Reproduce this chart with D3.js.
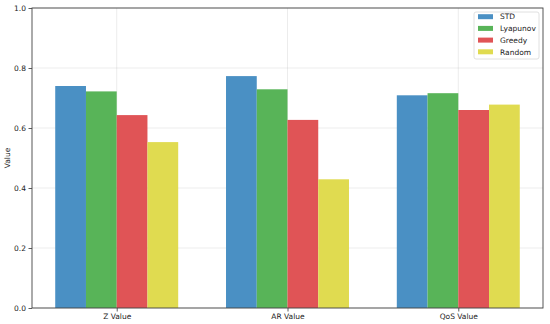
<!DOCTYPE html>
<html><head><meta charset="utf-8">
<script src="https://cdn.jsdelivr.net/npm/d3@7"></script>
<style>body{margin:0;background:#fff}svg{display:block}text{font-family:"DejaVu Sans",sans-serif;fill:#222}</style>
</head><body><svg id="c" width="550" height="324"></svg>
<script>
const categories = ["Z Value", "AR Value", "QoS Value"];
const seriesNames = ["STD", "Lyapunov", "Greedy", "Random"];
const STD = [0.740, 0.773, 0.709];
const Lyapunov = [0.722, 0.729, 0.716];
const Greedy = [0.643, 0.627, 0.660];
const Random = [0.553, 0.429, 0.678];
const yTicks = [0.0, 0.2, 0.4, 0.6, 0.8, 1.0];
const colors = ["#4a90c4", "#58b458", "#e05456", "#e0db50"];
const series = [STD, Lyapunov, Greedy, Random];

const svg = d3.select("#c");
const L = 32, R = 543, T = 8, B = 308;
const barW = 0.18;
const x = d3.scaleLinear().domain([-0.496, 2.496]).range([L, R]);
const y = d3.scaleLinear().domain([0, 1]).range([B, T]);

// grid
const g = svg.append("g");
g.selectAll(".hg").data(yTicks).enter().append("line")
  .attr("x1", L).attr("x2", R).attr("y1", d => y(d)).attr("y2", d => y(d))
  .attr("stroke", "#b0b0b0").attr("stroke-opacity", 0.3).attr("stroke-width", 0.8);
g.selectAll(".vg").data(categories).enter().append("line")
  .attr("y1", T).attr("y2", B).attr("x1", (d, i) => x(i)).attr("x2", (d, i) => x(i))
  .attr("stroke", "#b0b0b0").attr("stroke-opacity", 0.3).attr("stroke-width", 0.8);

// bars
series.forEach((s, j) => {
  svg.append("g").selectAll("rect").data(s).enter().append("rect")
    .attr("x", (d, i) => x(i + (j - 1.5) * barW - barW / 2))
    .attr("width", x(barW) - x(0))
    .attr("y", d => y(d)).attr("height", d => y(0) - y(d))
    .attr("fill", colors[j]);
});

// axes
const yAxis = d3.axisLeft(y).tickValues(yTicks).tickFormat(d3.format(".1f")).tickSize(3.5).tickPadding(2.5);
const ya = svg.append("g").attr("transform", `translate(${L},0)`).call(yAxis);
const xAxis = d3.axisBottom(x).tickValues([0, 1, 2]).tickFormat((d) => categories[d]).tickSize(3.5).tickPadding(2);
const xa = svg.append("g").attr("transform", `translate(0,${B})`).call(xAxis);
[ya, xa].forEach(a => {
  a.select(".domain").remove();
  a.selectAll("line").attr("stroke", "#333").attr("stroke-width", 0.8);
  a.selectAll("text").style("font-size", "7.5px").attr("fill", "#222");
});
svg.append("rect").attr("x", L).attr("y", T).attr("width", R - L).attr("height", B - T)
  .attr("fill", "none").attr("stroke", "#444").attr("stroke-width", 0.9);

svg.append("text").attr("transform", `translate(10,${(T + B) / 2}) rotate(-90)`)
  .attr("text-anchor", "middle").style("font-size", "7.5px").text("Value");

// legend
const lg = svg.append("g");
lg.append("rect").attr("x", 474).attr("y", 12).attr("width", 65).attr("height", 47).attr("rx", 2)
  .attr("fill", "#fff").attr("fill-opacity", 0.8).attr("stroke", "#d8d8d8").attr("stroke-width", 0.8);
seriesNames.forEach((n, j) => {
  const cy = 16.7 + j * 11.7;
  lg.append("rect").attr("x", 478).attr("y", cy - 2.5).attr("width", 15).attr("height", 5).attr("fill", colors[j]);
  lg.append("text").attr("x", 500).attr("y", cy + 2.7).style("font-size", "7.5px").text(n);
});
</script></body></html>
